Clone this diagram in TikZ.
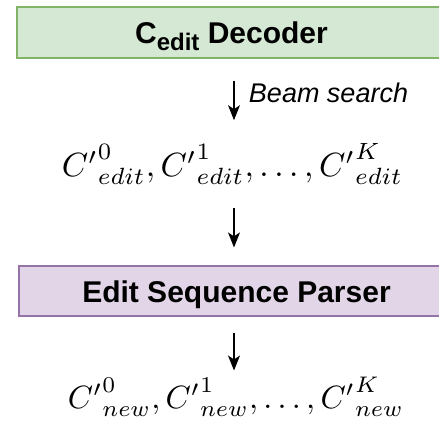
\documentclass[tikz,border=0pt]{standalone}
\usepackage{fontspec}
\setsansfont{Liberation Sans}
\usetikzlibrary{arrows.meta,calc}
\definecolor{gfill}{HTML}{D5E8D4}
\definecolor{gdraw}{HTML}{82B366}
\definecolor{pfill}{HTML}{E1D5E7}
\definecolor{pdraw}{HTML}{9673A6}
\tikzset{
  boxstyle/.style={draw, line width=1.2pt, rectangle, inner sep=0pt},
  boxtext/.style={font=\sffamily\bfseries, text=black, inner sep=0pt, anchor=base},
  arr/.style={line width=1.3pt, -{Stealth[length=15pt,width=12pt,inset=4pt]}},
  formula/.style={inner sep=0pt}
}
\begin{document}
\begin{tikzpicture}[x=1pt,y=-1pt]
\clip (0,0) rectangle (439,431);
\useasboundingbox (0,0) rectangle (439,431);
\fill[white] (0,0) rectangle (439,431);
% boxes
\node[boxstyle, fill=gfill, draw=gdraw, minimum width=443pt, minimum height=51pt] (decbox) at (238.5,32.5) {};
\node[boxstyle, fill=pfill, draw=pdraw, minimum width=441pt, minimum height=50pt] (parserbox) at (239.5,291) {};
\node[boxtext] (dec) at (231.5,43) {\fontsize{30}{36}\selectfont C\raisebox{-7pt}{\fontsize{24}{28}\selectfont edit} Decoder};
\node[boxtext] (parser) at (236.5,302) {\fontsize{30}{36}\selectfont Edit Sequence Parser};
% formulas
\node[formula] (c1) at (232.5,164) {\resizebox{341pt}{!}{${C'}^{0}_{edit}, {C'}^{1}_{edit}, \ldots, {C'}^{K}_{edit}$}};
\node[formula] (c2) at (236,396.5) {\resizebox{336pt}{!}{${C'}^{0}_{new}, {C'}^{1}_{new}, \ldots, {C'}^{K}_{new}$}};
% arrows
\coordinate (ax) at (234,0);
\draw[arr, shorten <=22pt, shorten >=23pt] (decbox.south -| ax) -- (c1.north -| ax)
  node[pos=0.4, right=11pt, font=\sffamily\itshape\fontsize{27}{32}\selectfont] (beam) {Beam search};
\draw[arr, shorten <=23pt, shorten >=18pt] (c1.south -| ax) -- (parserbox.north -| ax);
\draw[arr, shorten <=16pt, shorten >=6pt] (parserbox.south -| ax) -- (c2.north -| ax);
\end{tikzpicture}
\end{document}
